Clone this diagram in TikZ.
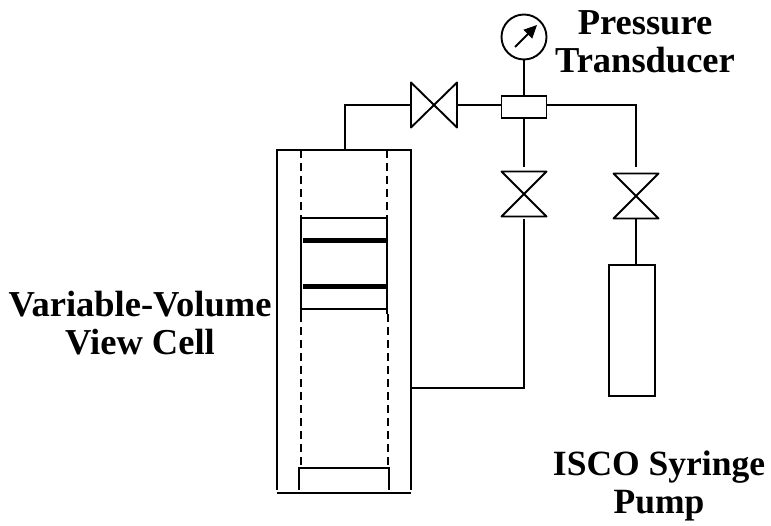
\documentclass[tikz,border=0pt]{standalone}
\usepackage{fontspec}
\setmainfont{Liberation Serif}
\usetikzlibrary{arrows.meta,calc}
\tikzset{
  x=1pt,y=-1pt,
  line/.style={line width=1.9pt,black},
  box/.style={draw,line width=1.9pt,inner sep=0pt,outer sep=0pt,rectangle},
  hvalve/.style={inner sep=0pt,outer sep=0pt,minimum width=46pt,minimum height=45pt,rectangle},
  vvalve/.style={inner sep=0pt,outer sep=0pt,minimum width=45pt,minimum height=45pt,rectangle},
  lab/.style={font=\bfseries\fontsize{36.5}{38.5}\selectfont,align=center,inner sep=0pt}
}
\begin{document}
\begin{tikzpicture}
\useasboundingbox (0,0) rectangle (771,526);
% cell
\node[inner sep=0,outer sep=0,minimum width=134pt,minimum height=343pt] (cell) at (344,321.5) {};
\node[inner sep=0,outer sep=0,minimum width=86pt,minimum height=91pt] (piston) at (344,264) {};
\draw[line] ($(cell.south west)+(0,3pt)$) -- (cell.north west) -- (cell.north east) -- ($(cell.south east)+(0,3pt)$);
\draw[line] (cell.south west) -- (cell.south east);
\draw[line,dash pattern=on 8pt off 5pt] (301,150) -- (301,218);
\draw[line,dash pattern=on 8pt off 5pt] (387,150) -- (387,218);
\draw[line] (301,218) -- (387,218);
\draw[line] (301,309) -- (387,309);
\draw[line] (301,218) -- (301,314);
\draw[line] (387,218) -- (387,314);
\draw[line width=5pt] (303,241) -- (388,241);
\draw[line width=5pt] (303,287) -- (388,287);
\draw[line,dash pattern=on 8pt off 5pt] (301,314) -- (301,466);
\draw[line,dash pattern=on 8pt off 5pt] (388,314) -- (388,466);
\draw[line] (299,490) -- (299,468) -- (389,468) -- (389,490);
% valves
\node[hvalve] (v1) at (434,105) {};
\node[vvalve] (v2) at (524,194) {};
\node[vvalve] (v3) at (636,196) {};
\draw[line,line join=round] (v1.north west) -- (v1.south east) -- (v1.north east) -- (v1.south west) -- cycle;
\draw[line,line join=round] (v2.north west) -- (v2.north east) -- (v2.south west) -- (v2.south east) -- cycle;
\draw[line,line join=round] (v3.north west) -- (v3.north east) -- (v3.south west) -- (v3.south east) -- cycle;
% tee, gauge, pump
\node[box,minimum width=45pt,minimum height=22pt] (tee) at (524,107) {};
\node[draw,circle,line width=1.9pt,minimum size=45pt,inner sep=0pt,outer sep=0pt] (gauge) at (524,37) {};
\coordinate (ns) at (515,47);
\coordinate (ne) at (537,25);
\draw[line,-{Triangle[length=13pt,width=12pt]}] (ns) -- (ne);
\node[box,minimum width=46pt,minimum height=131pt] (pump) at (632,330.5) {};
\coordinate (c1) at (345,105);
\coordinate (c2) at (636,105);
\coordinate (c3) at (524,388);
% connectors
\draw[line] (345,150) -- (c1) -- (v1.west);
\draw[line] (v1.east) -- (tee.west |- v1.east);
\draw[line] (gauge.south) -- (tee.north);
\draw[line] (tee.east |- c2) -- (c2) -- (636,167);
\draw[line] (tee.south) -- (524,167);
\draw[line] (524,219) -- (c3) -- (411,388);
\draw[line] (636,219) -- (636,265);
% labels
\node[lab] (l1) at (645,42) {Pressure\\Transducer};
\node[lab] (l2) at (140,323) {Variable-Volume\\View Cell};
\node[lab,font=\bfseries\fontsize{35.5}{38.5}\selectfont] (l3) at (659,486) {ISCO Syringe\\Pump};
\end{tikzpicture}
\end{document}
